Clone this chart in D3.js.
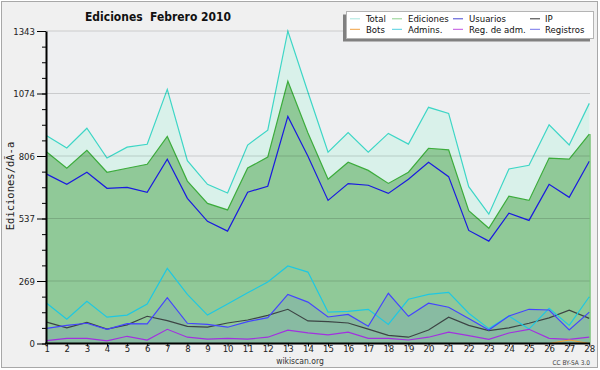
<!DOCTYPE html>
<html><head><meta charset="utf-8">
<script src="https://cdn.jsdelivr.net/npm/d3@7"></script>
<style>
html,body{margin:0;padding:0;background:#fff;}
svg{display:block;font-family:"DejaVu Sans Condensed","DejaVu Sans",sans-serif;font-stretch:condensed;}
</style></head><body>
<svg id="c" width="600" height="370"></svg>
<script>
const days = [1,2,3,4,5,6,7,8,9,10,11,12,13,14,15,16,17,18,19,20,21,22,23,24,25,26,27,28];
const total = [893,840,925,797,844,856,1092,786,684,647,853,917,1343,1080,822,906,822,903,857,1015,989,674,556,750,766,940,853,1032];
const ediciones = [823,753,830,736,753,770,890,698,602,574,754,801,1127,905,706,779,744,688,736,839,832,571,495,633,615,797,792,900];
const usuarios = [728,684,736,667,671,650,792,624,525,483,650,676,976,805,615,687,680,645,706,779,717,486,440,560,529,684,628,783];
const ip = [92,67,91,62,80,117,98,74,70,88,101,121,147,97,94,88,62,35,27,58,113,78,55,67,87,110,143,108];
const bots = [0,0,0,0,0,0,0,0,0,0,0,0,0,0,0,0,0,0,0,0,0,0,0,0,0,0,15,0];
const admins = [173,104,181,113,122,170,323,211,122,170,218,264,333,307,135,138,147,82,190,211,220,130,64,118,62,151,78,201];
const regAdm = [12,22,22,11,31,15,61,27,19,22,19,27,57,46,37,49,22,22,15,27,49,34,18,45,61,22,18,27];
const registros = [65,78,87,61,85,84,197,87,82,70,94,111,211,178,114,125,74,216,117,173,156,107,58,118,147,144,58,135];
const yTickValues = [0,268.6,537.2,805.8,1074.4,1343];
const yTickLabels = ["0","269","537","806","1074","1343"];
const yMax = 1343;
const legendNames = ["Total","Ediciones","Usuarios","IP","Bots","Admins.","Reg. de adm.","Registros"];
const legendColors = ["#a8e6de","#8ed08e","#4646d2","#333333","#f0a040","#50cfe0","#c050e0","#7474ea"];

const svg = d3.select("#c");
svg.append("rect").attr("x",1.5).attr("y",1.5).attr("width",596).attr("height",366)
  .attr("fill","#f0f0f0").attr("stroke","#a8a8a8");

const x = d3.scaleLinear().domain([1,28]).range([46.7,589.3]);
const y = d3.scaleLinear().domain([0,yMax]).range([343.5,31]);

svg.append("rect").attr("x",46).attr("y",31).attr("width",544).attr("height",312.5).attr("fill","#eeeff1");

const area = (arr)=>d3.area().x((d,i)=>x(days[i])).y0(y(0)).y1(d=>y(d))(arr);
const line = (arr)=>d3.line().x((d,i)=>x(days[i])).y(d=>y(d))(arr);

svg.append("path").attr("d",area(total)).attr("fill","#d9f1ea");
svg.append("path").attr("d",line(total)).attr("fill","none").attr("stroke","#3dd6c6").attr("stroke-width",1.2);
svg.append("path").attr("d",area(ediciones)).attr("fill","#90c998");
svg.append("path").attr("d",line(ediciones)).attr("fill","none").attr("stroke","#3cac3c").attr("stroke-width",1.2);
svg.append("path").attr("d",area(registros)).attr("fill","rgba(64,64,255,0.1)");

// gridlines
svg.append("g").selectAll("line").data(yTickValues.slice(1)).join("line")
  .attr("x1",46).attr("x2",590).attr("y1",d=>y(d)).attr("y2",d=>y(d))
  .attr("stroke","rgba(0,0,0,0.15)").attr("stroke-width",1);

const series = [
  [usuarios,"#1a1ae0"],
  [ip,"#3c4444"],
  [admins,"#1ec8e2"],
  [registros,"#4444ff"],
  [regAdm,"#a230e0"],
  [bots,"#f0a030"]
];
series.forEach(([arr,c])=>{
  svg.append("path").attr("d",line(arr)).attr("fill","none").attr("stroke",c).attr("stroke-width",1.2);
});

svg.append("line").attr("x1",590).attr("x2",590).attr("y1",y(ediciones[27])).attr("y2",343.5).attr("stroke","#3cac3c").attr("stroke-width",1);

// axes
const minorVals = d3.range(0,21).map(k=>k*yMax/20);
const gMinor = svg.append("g").attr("transform","translate(46,0)")
  .call(d3.axisLeft(y).tickValues(minorVals).tickSize(4).tickSizeOuter(0).tickFormat(""));
gMinor.select(".domain").remove();
gMinor.selectAll("line").attr("stroke","#000");

const gy = svg.append("g").attr("transform","translate(46,0)")
  .call(d3.axisLeft(y).tickValues(yTickValues).tickSize(9).tickSizeOuter(0).tickFormat((d,i)=>yTickLabels[i]));
gy.select(".domain").attr("stroke","#000").attr("stroke-width",2);
gy.selectAll("text").attr("font-family","\"DejaVu Sans Condensed\",\"DejaVu Sans\",sans-serif").attr("font-size",9.5).attr("fill","#222").attr("x",-11);

const gx = svg.append("g").attr("transform","translate(0,343.5)")
  .call(d3.axisBottom(x).tickValues(days).tickSize(3).tickSizeOuter(0).tickFormat(d=>String(d)));
gx.select(".domain").attr("stroke","#000").attr("stroke-width",2).attr("d","M45,0H590");
gx.selectAll("line").attr("stroke","#000");
gx.selectAll("text").attr("font-family","\"DejaVu Sans Condensed\",\"DejaVu Sans\",sans-serif").attr("font-size",9.5).attr("fill","#222").attr("dy","0.55em").attr("y",3);

function fit(sel, w){
  const n = sel.node();
  if (n.getComputedTextLength() > w) sel.attr("textLength", w).attr("lengthAdjust","spacingAndGlyphs");
}

// title
const title = svg.append("text").attr("x",158).attr("y",21).attr("text-anchor","middle")
  .attr("font-size",13).attr("font-weight","bold").attr("fill","#111")
  .attr("xml:space","preserve").text("Ediciones  Febrero 2010");
fit(title, 146);

// y label
svg.append("text").attr("transform","translate(14,186) rotate(-90)").attr("text-anchor","middle")
  .attr("font-family","\"DejaVu Sans Mono\",monospace").attr("font-size",10.5).attr("fill","#222")
  .text("Ediciones/dÃ-a");

// footer
svg.append("text").attr("x",300).attr("y",363.5).attr("text-anchor","middle").attr("font-size",8.5).attr("fill","#333").text("wikiscan.org");
svg.append("text").attr("x",590).attr("y",364.5).attr("text-anchor","end").attr("font-size",6.5).attr("fill","#444").text("CC BY-SA 3.0");

// legend
const lg = svg.append("g");
lg.append("rect").attr("x",343).attr("y",14.5).attr("width",247).attr("height",27).attr("fill","#808080");
lg.append("rect").attr("x",346.5).attr("y",11.5).attr("width",247).attr("height",27).attr("fill","#fff").attr("stroke","#b4b4b4");
const colLine = [350,392,453,530];
const colText = [366,408,469,545];
const colWidth = [24,43,39,45];
const rowY = [18.8,29.3];
legendNames.forEach((n,i)=>{
  const r = Math.floor(i/4), c = i%4;
  lg.append("line").attr("x1",colLine[c]).attr("x2",colLine[c]+10).attr("y1",rowY[r]).attr("y2",rowY[r])
    .attr("stroke",legendColors[i]).attr("stroke-width",1);
  const t = lg.append("text").attr("x",colText[c]).attr("y",rowY[r]+3.3).attr("font-size",9.5).attr("fill","#111").text(n);
  const maxW = c===2 ? 58 : colWidth[c];
  fit(t, maxW);
});
</script>
</body></html>
